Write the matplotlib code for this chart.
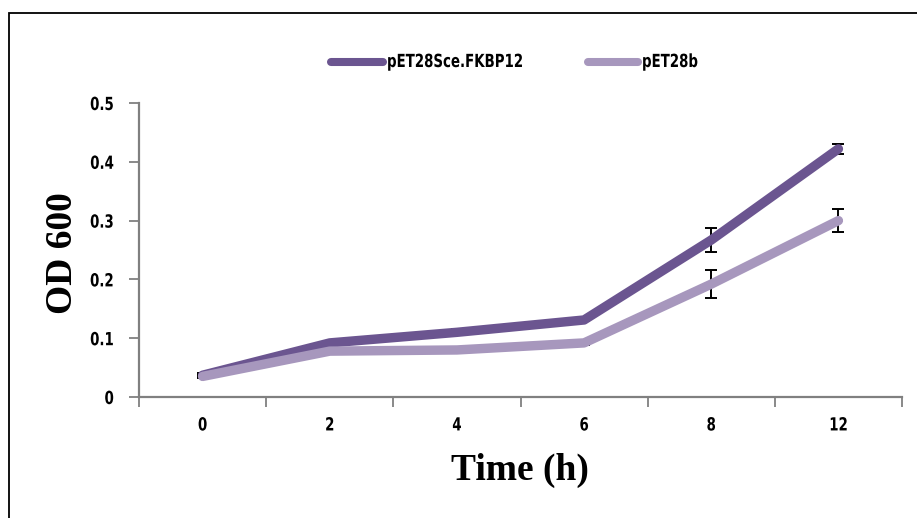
import matplotlib
matplotlib.use("Agg")
import matplotlib.pyplot as plt
from matplotlib.lines import Line2D
from matplotlib.patches import Rectangle
from matplotlib.path import Path
from matplotlib.patheffects import AbstractPathEffect
from matplotlib.transforms import Affine2D

categories = ["0", "2", "4", "6", "8", "12"]
sce_values = [0.037, 0.092, 0.110, 0.131, 0.267, 0.422]
sce_errors = [0.003, 0.002, 0.005, 0.002, 0.020, 0.008]
b_values = [0.035, 0.078, 0.080, 0.092, 0.192, 0.300]
b_errors = [0.002, 0.002, 0.002, 0.004, 0.024, 0.020]
series_names = ["pET28Sce.FKBP12", "pET28b"]
y_ticks = [0, 0.1, 0.2, 0.3, 0.4, 0.5]
y_tick_labels = ["0", "0.1", "0.2", "0.3", "0.4", "0.5"]


class Squeeze(AbstractPathEffect):
    """Horizontally condense text glyphs (emulates a narrow font)."""

    def __init__(self, sx=0.8, anchor="center"):
        super().__init__()
        self.sx = sx
        self.anchor = anchor

    def draw_path(self, renderer, gc, tpath, affine, rgbFace=None):
        v = tpath.vertices
        if len(v) == 0:
            return
        if tpath.codes is not None:
            v = v[tpath.codes != Path.CLOSEPOLY]
        if self.anchor == "left":
            x0 = 0.0
        elif self.anchor == "right":
            x0 = v[:, 0].max()
        else:
            x0 = 0.5 * (v[:, 0].min() + v[:, 0].max())
        tr = Affine2D().translate(-x0, 0).scale(self.sx, 1).translate(x0, 0) + affine
        renderer.draw_path(gc, tpath, tr, rgbFace)


SX = 0.74
TICK_SIZE = 13

dark = "#6B5590"
light = "#A797BD"

fig = plt.figure(figsize=(9.17, 5.18), dpi=100)
fig.patches.append(Rectangle((9 / 917, -0.1), 1.2, (518 - 13) / 518 + 0.1,
                             transform=fig.transFigure, fill=False,
                             edgecolor="black", linewidth=1.3))

ax = fig.add_axes([139 / 917, (518 - 397) / 518, (902 - 139) / 917, (397 - 103) / 518])
x = list(range(len(categories)))

ax.errorbar(x, sce_values, yerr=sce_errors, fmt="none", ecolor="black",
            elinewidth=1.4, capsize=4.5, capthick=1.4, zorder=2)
ax.errorbar(x, b_values, yerr=b_errors, fmt="none", ecolor="black",
            elinewidth=1.4, capsize=4.5, capthick=1.4, zorder=2)
ax.plot(x, sce_values, color=dark, linewidth=6.8, solid_capstyle="round",
        solid_joinstyle="round", zorder=3)
ax.plot(x, b_values, color=light, linewidth=6.8, solid_capstyle="round",
        solid_joinstyle="round", zorder=4)

ax.set_xlim(-0.5, len(categories) - 0.5)
ax.set_ylim(0, 0.5)
ax.set_xticks([i - 0.5 for i in range(len(categories) + 1)])
ax.set_xticklabels([])
ax.set_xticks(x, minor=True)
xl = ax.set_xticklabels(categories, minor=True, fontsize=TICK_SIZE, fontweight="bold")
for t in xl:
    t.set_path_effects([Squeeze(SX, "center")])
ax.tick_params(axis="x", which="major", direction="out", length=7, width=1.3, color="#808080")
ax.tick_params(axis="x", which="minor", length=0, pad=14)
ax.set_yticks(y_ticks)
yl = ax.set_yticklabels(y_tick_labels, fontsize=TICK_SIZE, fontweight="bold")
for t in yl:
    t.set_path_effects([Squeeze(SX, "right")])
ax.tick_params(axis="y", direction="out", length=7, width=1.3, color="#808080", pad=11)

for s in ["top", "right"]:
    ax.spines[s].set_visible(False)
for s in ["left", "bottom"]:
    ax.spines[s].set_color("#808080")
    ax.spines[s].set_linewidth(1.6)

fig.text(520 / 917, 1 - 470 / 518, "Time (h)", fontsize=27, fontweight="bold",
         family="Liberation Serif", ha="center", va="center")
fig.text(63 / 917, 1 - 253 / 518, "OD 600", fontsize=27, fontweight="bold",
         family="Liberation Serif", ha="center", va="center", rotation=90)

# legend drawn manually in figure pixel coordinates
leg_y = 1 - 62 / 518
for (x0, x1, tx), col, name in zip([(331, 383, 387), (588, 638, 642)], [dark, light], series_names):
    fig.add_artist(Line2D([x0 / 917, x1 / 917], [leg_y, leg_y], color=col, linewidth=5.8,
                          solid_capstyle="round", transform=fig.transFigure))
    t = fig.text(tx / 917, leg_y, name, fontsize=TICK_SIZE, fontweight="bold",
                 ha="left", va="center")
    t.set_path_effects([Squeeze(SX, "left")])

fig.savefig("out.png", dpi=100)
